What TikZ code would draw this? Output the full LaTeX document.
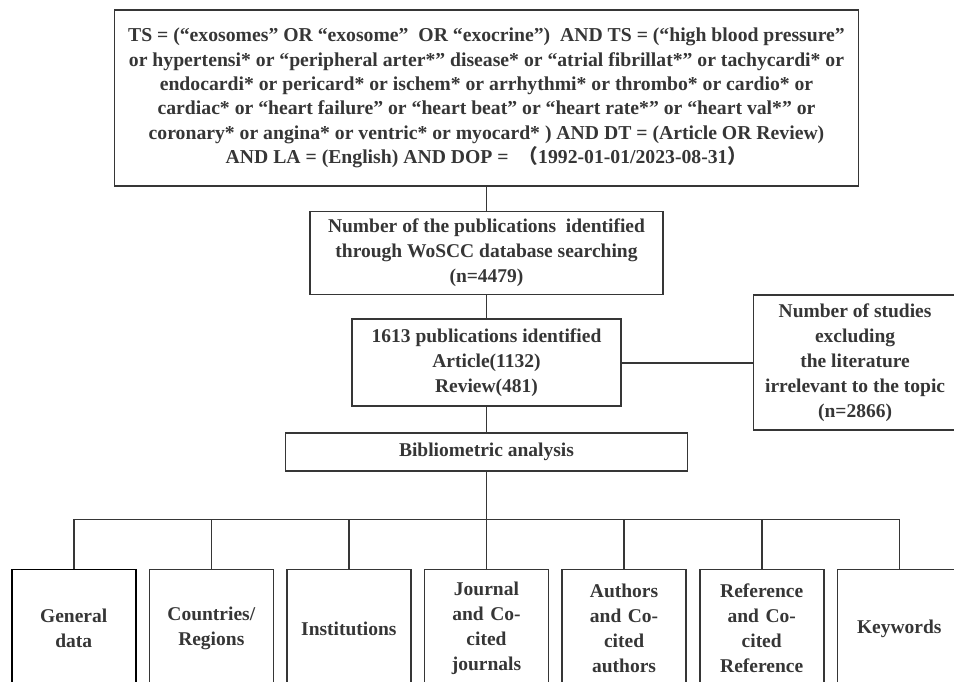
\documentclass[tikz,border=0pt]{standalone}
\usepackage{fontspec}
\setmainfont{Liberation Serif}
\newfontfamily\cjk{Noto Sans CJK SC}
\usepackage{tikz}
\usetikzlibrary{positioning,calc}
\definecolor{inkgray}{HTML}{363636}

\begin{document}
\begin{tikzpicture}[
  x=1pt, y=-1pt,
  font=\bfseries\fontsize{19.5}{25}\selectfont,
  text=inkgray,
  node distance=24pt and 12pt,
  box/.style={draw=inkgray, line width=1.6pt, align=center, inner sep=0pt},
  leaf/.style={box, text width=124pt, minimum height=118pt},
  link/.style={draw=inkgray, line width=1.6pt}
]
\useasboundingbox (0,0) rectangle (954,682);
\clip (0,0) rectangle (954,682);

\node[box, minimum width=744pt, minimum height=176pt, font=\bfseries\fontsize{19.7}{24.4}\selectfont] (query) at (486.5,98) {TS = (“exosomes” OR “exosome”\ \ OR “exocrine”)\ \ AND TS = (“high blood pressure”\\
or hypertensi* or “peripheral arter*” disease* or “atrial fibrillat*” or tachycardi* or\\
endocardi* or pericard* or ischem* or arrhythmi* or thrombo* or cardio* or\\
cardiac* or “heart failure” or “heart beat” or “heart rate*” or “heart val*” or\\
coronary* or angina* or ventric* or myocard* ) AND DT = (Article OR Review)\\
AND LA = (English) AND DOP = \ {\cjk （}1992-01-01/2023-08-31{\cjk ）}};
\node[box, below=of query, minimum width=353pt, minimum height=83pt] (found) {Number of the publications\ \ identified\\through WoSCC database searching\\(n=4479)};
\node[box, below=23pt of found, minimum width=269pt, minimum height=87pt] (selected) {1613 publications identified\\Article(1132)\\Review(481)};
\node[box, right=131pt of selected, minimum width=203pt, minimum height=135pt] (excluded) {Number of studies\\excluding\\the literature\\irrelevant to the topic\\(n=2866)};
\node[box, below=25pt of selected, minimum width=402pt, minimum height=38pt] (biblio) {Bibliometric analysis};

% analysis categories
\node[leaf, below=97pt of biblio] (journals) {Journal\\and Co-\\cited\\journals};
\node[leaf, left=of journals] (institutions) {Institutions};
\node[leaf, left=of institutions] (countries) {Countries/\\Regions};
\node[leaf, left=of countries, draw=black] (general) {General\\data};
\node[leaf, right=of journals] (authors) {Authors\\and Co-\\cited\\authors};
\node[leaf, right=of authors] (references) {Reference\\and Co-\\cited\\Reference};
\node[leaf, right=of references] (keywords) {Keywords};
\coordinate[below=48pt of biblio] (trunk);

\draw[link] (query) -- (found);
\draw[link] (found) -- (selected);
\draw[link] (selected) -- (excluded);
\draw[link] (selected) -- (biblio);
\draw[link] (biblio) -- (trunk);
\draw[link] (general.north) |- (trunk) -| (keywords.north);
\draw[link] (countries) -- (countries |- trunk);
\draw[link] (institutions) -- (institutions |- trunk);
\draw[link] (journals) -- (journals |- trunk);
\draw[link] (authors) -- (authors |- trunk);
\draw[link] (references) -- (references |- trunk);
\end{tikzpicture}
\end{document}
